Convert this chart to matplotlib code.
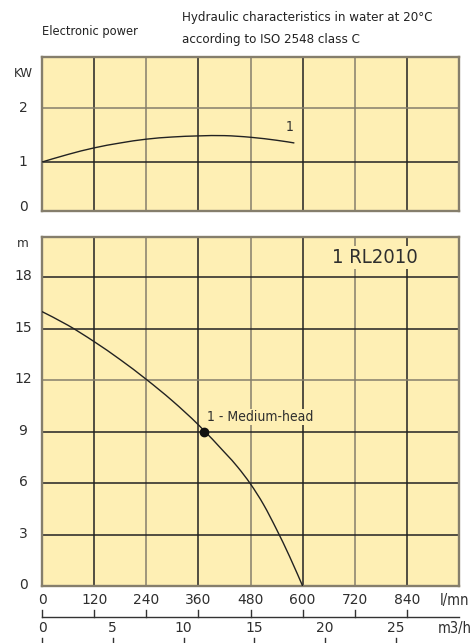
import matplotlib
matplotlib.use("Agg")
import matplotlib.pyplot as plt
import matplotlib.transforms as mtrans
from matplotlib.path import Path
from matplotlib.patches import PathPatch

plt.rcParams['font.family'] = ['DejaVu Sans']

# ---- data ----
flow_ticks = [0, 120, 240, 360, 480, 600, 720, 840]
m3h_ticks = [0, 5, 10, 15, 20, 25]
m3h_to_lmn = 32.6
power_ticks = [0, 1, 2]
head_ticks = [0, 3, 6, 9, 12, 15, 18]

power_q = [0, 60, 120, 180, 240, 300, 360, 420, 480, 540, 581]
power_kw = [1.0, 1.14, 1.26, 1.35, 1.42, 1.46, 1.48, 1.485, 1.455, 1.40, 1.35]

head_q = [0, 60, 120, 180, 240, 300, 360, 420, 450, 480, 510, 540, 570, 600]
head_m = [16.0, 15.2, 14.25, 13.2, 12.05, 10.8, 9.4, 7.8, 6.95, 5.95, 4.75, 3.3, 1.72, 0.0]

duty_q = [373]
duty_h = [9.0]

W, H = 473, 643
fig = plt.figure(figsize=(W / 100, H / 100), dpi=100)

def rect(l, t, r, b):
    return [l / W, 1 - b / H, (r - l) / W, (b - t) / H]

def fy(py):
    return 1 - py / H

bg = '#FEEFB4'
dark = '#222222'
grey = '#857e6c'
txt = '#2e2e2e'
cond = dict(family='DejaVu Sans', stretch='condensed')
reg = dict(family='DejaVu Sans')

def smooth(ax, xs, ys, **kw):
    # Catmull-Rom spline through the read points, drawn as a Bezier path
    pts = list(zip(xs, ys))
    verts = [pts[0]]
    codes = [Path.MOVETO]
    n = len(pts)
    for i in range(n - 1):
        p0 = pts[i - 1] if i > 0 else pts[i]
        p1 = pts[i]
        p2 = pts[i + 1]
        p3 = pts[i + 2] if i + 2 < n else pts[i + 1]
        c1 = (p1[0] + (p2[0] - p0[0]) / 6, p1[1] + (p2[1] - p0[1]) / 6)
        c2 = (p2[0] - (p3[0] - p1[0]) / 6, p2[1] - (p3[1] - p1[1]) / 6)
        verts += [c1, c2, p2]
        codes += [Path.CURVE4] * 3
    ax.add_patch(PathPatch(Path(verts, codes), facecolor='none', **kw))

ax1 = fig.add_axes(rect(42, 57, 459, 211))
ax2 = fig.add_axes(rect(42, 237, 459, 586))

for ax in (ax1, ax2):
    ax.set_facecolor(bg)
    ax.set_xlim(0, 960)
    ax.set_xticks([])
    ax.set_yticks([])
    for s in ax.spines.values():
        s.set_color(grey)
        s.set_linewidth(1.7)
    for i, q in enumerate(flow_ticks[1:]):
        ax.axvline(q, color=dark if i % 2 == 0 else grey, lw=1.1, zorder=1)

ax1.set_ylim(0.1, 2.93)
ax2.set_ylim(0, 20.35)
for v in power_ticks[1:]:
    ax1.axhline(v, color=dark if v == 1 else grey, lw=1.1, zorder=1)
for v in head_ticks[1:]:
    ax2.axhline(v, color=grey if v == 12 else dark, lw=1.1, zorder=1)

smooth(ax1, power_q, power_kw, edgecolor=dark, lw=1.0, zorder=3)
ax1.text(569, 1.64, '1', fontsize=10, ha='center', va='center', color=txt,
         bbox=dict(facecolor=bg, edgecolor='none', pad=0.5), zorder=4, **cond)

smooth(ax2, head_q, head_m, edgecolor=dark, lw=1.0, zorder=3)
ax2.plot(duty_q, duty_h, 'o', color='#111111', ms=6, zorder=4)
ax2.text(379, 9.85, '1 - Medium-head', fontsize=10, ha='left', va='center', color=txt,
         bbox=dict(facecolor=bg, edgecolor='none', pad=0.5), zorder=4, **cond)
ax2.text(767, 19.18, '1 RL2010', fontsize=14.5, ha='center', va='center', color=txt,
         bbox=dict(facecolor=bg, edgecolor='none', pad=1.5), zorder=4, **cond)

# y tick labels
tr1 = mtrans.blended_transform_factory(fig.transFigure, ax1.transData)
tr2 = mtrans.blended_transform_factory(fig.transFigure, ax2.transData)
for v in power_ticks:
    ax1.text(23 / W, max(v, 0.17), str(v), transform=tr1, ha='center', va='center', fontsize=10, color=txt, **reg)
ax1.text(23 / W, 2.62, 'KW', transform=tr1, ha='center', va='center', fontsize=9.5, color=txt, **cond)
for v in head_ticks:
    ax2.text(23 / W, v + 0.05, str(v), transform=tr2, ha='center', va='center', fontsize=10, color=txt, **reg)
ax2.text(23 / W, 20.0, 'm', transform=tr2, ha='center', va='center', fontsize=9.5, color=txt, **cond)

# bottom flow scales
trx = mtrans.blended_transform_factory(ax2.transData, fig.transFigure)
for q in flow_ticks:
    ax2.text(q, fy(600), str(q), transform=trx, ha='center', va='center', fontsize=10, color=txt, clip_on=False, **reg)
    ax2.plot([q, q], [fy(616.7), fy(610)], transform=trx, color='#333333', lw=1.0, clip_on=False)
ax2.plot([0, 960], [fy(616.7), fy(616.7)], transform=trx, color='#333333', lw=1.0, clip_on=False)
fig.text(454 / W, fy(600), 'l/mn', ha='center', va='center', fontsize=10.5, color=txt, **cond)

for m in m3h_ticks:
    q = m * m3h_to_lmn
    ax2.text(q, fy(628), str(m), transform=trx, ha='center', va='center', fontsize=10, color=txt, clip_on=False, **reg)
    ax2.plot([q, q], [fy(638), fy(643)], transform=trx, color='#333333', lw=1.0, clip_on=False)
fig.text(455 / W, fy(628), 'm3/h', ha='center', va='center', fontsize=10.5, color=txt, **cond)

# header texts
fig.text(42 / W, fy(31), 'Electronic power', ha='left', va='center', fontsize=9.2, color='#222222', **cond)
fig.text(182 / W, fy(17), 'Hydraulic characteristics in water at 20°C', ha='left', va='center', fontsize=9.5, color='#222222', **cond)
fig.text(182 / W, fy(39.5), 'according to ISO 2548 class C', ha='left', va='center', fontsize=9.5, color='#222222', **cond)

fig.savefig('out.png', dpi=100, facecolor='white')
